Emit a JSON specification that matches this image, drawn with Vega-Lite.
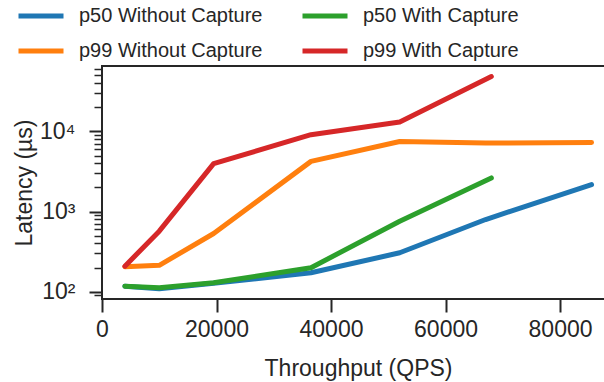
{
  "$schema": "https://vega.github.io/schema/vega-lite/v6.json",
  "width": 513,
  "height": 233,
  "autosize": {"type": "none"},
  "padding": {"left": 102, "top": 66, "right": 0, "bottom": 83},
  "background": "white",
  "config": {
    "view": {"stroke": "#262626", "strokeWidth": 2},
    "font": "Liberation Sans"
  },
  "data": {
    "values": [
      {"series": "p50 Without Capture", "qps": 4000, "latency": 117},
      {"series": "p50 Without Capture", "qps": 10000, "latency": 109},
      {"series": "p50 Without Capture", "qps": 19500, "latency": 127},
      {"series": "p50 Without Capture", "qps": 36500, "latency": 172},
      {"series": "p50 Without Capture", "qps": 52000, "latency": 306},
      {"series": "p50 Without Capture", "qps": 67000, "latency": 795},
      {"series": "p50 Without Capture", "qps": 85500, "latency": 2170},
      {"series": "p99 Without Capture", "qps": 4000, "latency": 205},
      {"series": "p99 Without Capture", "qps": 10000, "latency": 213},
      {"series": "p99 Without Capture", "qps": 19500, "latency": 532},
      {"series": "p99 Without Capture", "qps": 36500, "latency": 4230},
      {"series": "p99 Without Capture", "qps": 52000, "latency": 7500},
      {"series": "p99 Without Capture", "qps": 67000, "latency": 7160},
      {"series": "p99 Without Capture", "qps": 85500, "latency": 7290},
      {"series": "p50 With Capture", "qps": 4000, "latency": 117},
      {"series": "p50 With Capture", "qps": 10000, "latency": 112},
      {"series": "p50 With Capture", "qps": 19500, "latency": 129},
      {"series": "p50 With Capture", "qps": 36500, "latency": 199},
      {"series": "p50 With Capture", "qps": 52000, "latency": 757},
      {"series": "p50 With Capture", "qps": 68000, "latency": 2630},
      {"series": "p99 With Capture", "qps": 4000, "latency": 208},
      {"series": "p99 With Capture", "qps": 10000, "latency": 569},
      {"series": "p99 With Capture", "qps": 19500, "latency": 3960},
      {"series": "p99 With Capture", "qps": 36500, "latency": 9100},
      {"series": "p99 With Capture", "qps": 52000, "latency": 13100},
      {"series": "p99 With Capture", "qps": 68000, "latency": 48400}
    ]
  },
  "mark": {"type": "line", "strokeWidth": 5, "strokeCap": "round", "strokeJoin": "round", "clip": true},
  "encoding": {
    "x": {
      "field": "qps",
      "type": "quantitative",
      "scale": {"domain": [0, 89600], "nice": false, "zero": false},
      "axis": {
        "title": "Throughput (QPS)",
        "values": [0, 20000, 40000, 60000, 80000],
        "format": "d",
        "grid": false,
        "domain": false,
        "tickColor": "#262626",
        "tickSize": 13,
        "tickWidth": 2,
        "labelFontSize": 23,
        "labelColor": "#262626",
        "labelPadding": 6,
        "labelFlush": false,
        "labelOverlap": false,
        "titleFontSize": 23,
        "titleFontWeight": "normal",
        "titleColor": "#262626",
        "titleBaseline": "alphabetic",
        "titleAnchor": "middle",
        "titleX": 256,
        "titleY": 76
      }
    },
    "y": {
      "field": "latency",
      "type": "quantitative",
      "scale": {"type": "log", "domain": [81, 65600], "nice": false, "zero": false},
      "axis": {
        "title": "Latency (µs)",
        "values": [90, 100, 200, 300, 400, 500, 600, 700, 800, 900, 1000, 2000, 3000, 4000, 5000, 6000, 7000, 8000, 9000, 10000, 20000, 30000, 40000, 50000, 60000],
        "labelExpr": "datum.value == 100 ? '10²' : datum.value == 1000 ? '10³' : datum.value == 10000 ? '10⁴' : ''",
        "grid": false,
        "domain": false,
        "tickColor": "#262626",
        "tickSize": {"condition": {"test": "datum.value == 100 || datum.value == 1000 || datum.value == 10000", "value": 13}, "value": 8},
        "tickWidth": {"condition": {"test": "datum.value == 100 || datum.value == 1000 || datum.value == 10000", "value": 2}, "value": 1.5},
        "labelFontSize": 23,
        "labelColor": "#262626",
        "labelPadding": 14,
        "labelFlush": false,
        "labelOverlap": false,
        "labelBaseline": "middle",
        "titleFontSize": 23,
        "titleFontWeight": "normal",
        "titleColor": "#262626",
        "titleAngle": -90,
        "titleBaseline": "alphabetic",
        "titleAlign": "center",
        "titleX": -71,
        "titleY": 116.5
      }
    },
    "color": {
      "field": "series",
      "type": "nominal",
      "sort": null,
      "scale": {
        "domain": ["p50 Without Capture", "p99 Without Capture", "p50 With Capture", "p99 With Capture"],
        "range": ["#1f77b4", "#ff7f0e", "#2ca02c", "#d62728"]
      },
      "legend": {
        "orient": "none",
        "legendX": -86,
        "legendY": -75,
        "columns": 2,
        "title": null,
        "symbolType": "stroke",
        "symbolSize": 2025,
        "symbolStrokeWidth": 5,
        "labelFontSize": 20,
        "labelColor": "#262626",
        "labelOffset": 13,
        "labelLimit": 400,
        "columnPadding": 29,
        "rowPadding": -2
      }
    }
  }
}
